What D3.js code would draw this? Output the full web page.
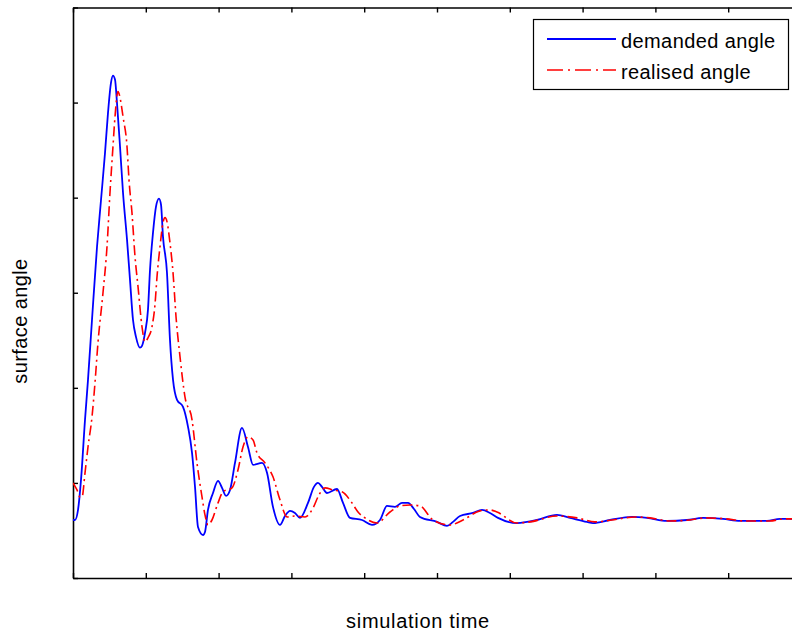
<!DOCTYPE html>
<html>
<head>
<meta charset="utf-8">
<script src="https://cdn.jsdelivr.net/npm/d3@7/dist/d3.min.js"></script>
<style>
  html, body { margin: 0; padding: 0; background: #fff; }
  svg { display: block; }
  text { font-family: "Liberation Sans", Arial, sans-serif; fill: #000; }
</style>
</head>
<body>
<script>
// Demanded control-surface angle over the simulation
const demandedTime = [0,0.27,0.69,1.10,1.65,2.06,2.61,3.30,3.85,
  4.40,4.81,5.22,5.49,5.77,6.04,6.46,6.87,7.42,7.83,
  8.24,8.65,9.20,9.48,9.89,10.30,10.58,10.99,11.40,11.81,
  12.09,12.36,12.91,13.32,13.74,14.29,15.11,15.80,16.35,16.76,
  17.17,17.86,18.13,18.54,19.23,19.92,20.47,21.02,21.57,22.25,
  23.21,24.04,24.73,25.96,26.65,27.47,28.43,29.12,29.81,30.49,
  31.18,32.28,33.10,33.65,34.20,34.89,36.26,37.09,38.05,39.70,
  41.07,42.17,43.13,44.23,45.19,46.02,46.84,47.66,50.00,51.37,
  52.20,53.16,54.95,56.18,57.28,58.38,60.99,62.36,63.74,66.48,
  68.27,70.60,71.43,73.76,76.79,78.85,81.59,84.34,86.54,89.29,
  91.62,95.33,97.12,100];
const demandedAngle = [3.05,3.05,3.58,5.16,8.32,10.42,13.58,17.42,19.89,
  22.37,24.47,26.05,26.42,26.21,25.00,22.68,20.26,17.79,15.68,
  13.58,12.68,12.11,12.21,12.89,14.11,16.21,18.16,19.53,19.95,
  19.63,17.95,16.05,12.53,10.42,9.37,9.00,7.95,6.58,4.79,
  2.68,2.26,2.42,3.58,4.47,5.11,4.74,4.32,4.63,6.05,
  7.89,6.89,5.95,6.05,5.53,3.74,2.79,3.26,3.53,3.42,
  3.16,3.95,4.79,5.00,4.79,4.47,4.68,3.95,3.16,3.05,
  2.79,3.05,3.79,3.74,3.95,3.95,3.63,3.21,2.95,2.74,
  2.95,3.26,3.42,3.58,3.42,3.16,2.89,2.95,3.05,3.32,
  3.16,2.95,2.89,3.05,3.21,3.16,3.00,3.05,3.16,3.11,
  3.00,3.00,3.11,3.11];

// Angle actually reached by the surface
const realisedTime = [0,0.55,0.96,1.24,1.65,2.06,2.61,3.02,3.43,4.12,
  4.67,5.08,5.49,5.77,6.18,6.46,6.87,7.42,7.69,8.10,
  8.52,8.93,9.48,9.89,10.30,10.85,11.26,11.54,11.95,12.36,
  12.64,12.91,13.32,13.74,14.15,14.70,15.38,16.35,17.03,17.72,
  18.13,18.54,19.09,19.92,20.60,21.84,22.66,23.35,24.04,24.73,
  25.27,26.37,27.47,28.43,29.40,30.49,31.87,32.97,33.79,34.62,
  35.71,36.95,38.32,39.15,40.11,41.76,43.54,44.92,46.29,47.66,
  49.45,51.79,53.57,55.91,57.28,58.24,60.99,62.77,66.48,69.23,
  71.70,74.04,77.20,79.26,82.01,84.75,86.95,89.70,92.17,95.74,
  97.66,100];
const realisedAngle = [5.00,4.63,4.26,4.26,5.53,6.89,8.47,10.26,12.37,15.00,
  17.42,20.26,22.68,24.26,25.58,25.26,24.26,22.68,20.95,19.21,
  16.89,15.32,13.21,12.42,12.63,13.21,14.37,15.84,17.42,18.68,
  18.95,18.74,17.63,16.05,13.74,11.63,9.53,8.32,6.05,4.26,
  3.32,2.79,3.05,3.95,4.53,4.74,5.68,6.89,7.42,7.26,
  6.58,6.05,5.32,4.11,3.21,3.26,3.21,3.68,4.37,4.74,
  4.63,4.53,3.95,3.47,3.16,2.89,3.47,3.79,3.84,3.79,
  3.05,2.79,3.05,3.53,3.58,3.47,2.89,2.95,3.26,3.16,
  2.95,3.05,3.21,3.16,3.00,3.05,3.16,3.11,3.00,3.00,
  3.11,3.11];

const xTicks = [0,10,20,30,40,50,60,70,80,90,100];
const yTicks = [0,5,10,15,20,25,30];
const seriesNames = ["demanded angle", "realised angle"];
const xLabel = "simulation time";
const yLabel = "surface angle";

const W = 792, H = 634;
const plot = { left: 73, top: 7.5, right: 801, bottom: 578 };

const svg = d3.select("body").append("svg")
  .attr("width", W).attr("height", H);

const x = d3.scaleLinear().domain([0, 100]).range([plot.left, plot.right]);
const y = d3.scaleLinear().domain([0, 30]).range([plot.bottom, plot.top]);

// Boxed axes with inward ticks and no tick labels
const tick = 5;
const axes = svg.append("g").attr("stroke", "#000").attr("stroke-width", 1.4).attr("fill", "none");
axes.append("g").attr("transform", `translate(0,${plot.bottom})`)
  .call(d3.axisBottom(x).tickValues(xTicks).tickSize(-tick).tickSizeOuter(0).tickFormat(""));
axes.append("g").attr("transform", `translate(0,${plot.top})`)
  .call(d3.axisTop(x).tickValues(xTicks).tickSize(-tick).tickSizeOuter(0).tickFormat(""));
axes.append("g").attr("transform", `translate(${plot.left},0)`)
  .call(d3.axisLeft(y).tickValues(yTicks).tickSize(-tick).tickSizeOuter(0).tickFormat(""));
axes.selectAll("path.domain").attr("stroke", "#000").attr("stroke-width", 1.6);
axes.selectAll(".tick line").attr("stroke", "#000").attr("stroke-width", 1.4);

svg.append("clipPath").attr("id", "plotclip")
  .append("rect").attr("x", plot.left).attr("y", plot.top)
  .attr("width", plot.right - plot.left).attr("height", plot.bottom - plot.top);

const line = d3.line()
  .x(d => x(d[0])).y(d => y(d[1]))
  .curve(d3.curveMonotoneX);

const demanded = demandedTime.map((t, i) => [t, demandedAngle[i]]);
const realised = realisedTime.map((t, i) => [t, realisedAngle[i]]);

const lines = svg.append("g").attr("clip-path", "url(#plotclip)").attr("fill", "none");
lines.append("path").datum(demanded)
  .attr("d", line).attr("stroke", "#0000ff").attr("stroke-width", 1.8);
lines.append("path").datum(realised)
  .attr("d", line).attr("stroke", "#ff0000").attr("stroke-width", 1.6)
  .attr("stroke-dasharray", "10,4,2,4");

// Axis titles
const fontSize = 20, spacing = 0.4;
svg.append("text").attr("x", 418).attr("y", 628)
  .attr("text-anchor", "middle").attr("font-size", fontSize)
  .attr("letter-spacing", 0.7).text(xLabel);
svg.append("text")
  .attr("transform", `translate(27,321) rotate(-90)`)
  .attr("text-anchor", "middle").attr("font-size", fontSize)
  .attr("letter-spacing", spacing).text(yLabel);

// Legend
const legend = svg.append("g");
legend.append("rect").attr("x", 533.5).attr("y", 19.5).attr("width", 255).attr("height", 70)
  .attr("fill", "#fff").attr("stroke", "#000").attr("stroke-width", 1.2);
const styles = [
  { stroke: "#0000ff", dash: null, width: 1.8 },
  { stroke: "#ff0000", dash: "16,5,2,5", width: 1.6 }
];
seriesNames.forEach((name, i) => {
  const cy = 39 + i * 31;
  legend.append("line").attr("x1", 547).attr("x2", 616).attr("y1", cy).attr("y2", cy)
    .attr("stroke", styles[i].stroke).attr("stroke-width", styles[i].width)
    .attr("stroke-dasharray", styles[i].dash);
  legend.append("text").attr("x", 621).attr("y", cy + 8.5)
    .attr("font-size", fontSize).attr("letter-spacing", spacing).text(name);
});
</script>
</body>
</html>
